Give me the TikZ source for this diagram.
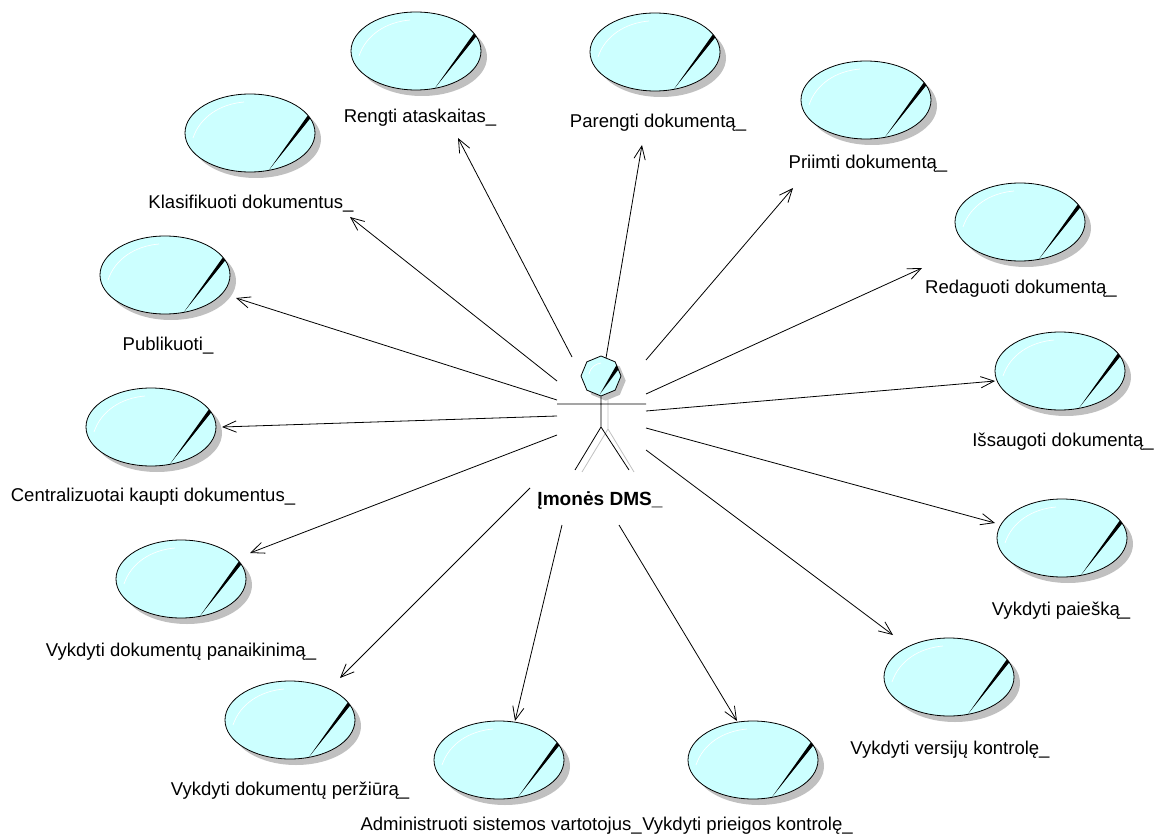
\documentclass[tikz,border=0pt]{standalone}
\usepackage{fontspec}
\setmainfont{Liberation Sans}
\usetikzlibrary{shapes.geometric,shadows,arrows.meta}
\definecolor{ucfill}{RGB}{204,255,255}
\definecolor{ucshade}{RGB}{192,192,192}
\tikzset{
  ucmark/.style={path picture={
    \begin{scope}[shift={(path picture bounding box.center)}]
      \fill[black] (60.5,-21.3) -- (63.5,-18.7) -- (19,37) -- cycle;
      \draw[white, line width=0.5pt] (-57,5) .. controls (-50,-16) and (-30,-29) .. (-6,-31);
    \end{scope}}},
  usecase/.style={ellipse, draw, line width=0.6pt, fill=ucfill,
    minimum width=97.5pt, minimum height=58.5pt, inner sep=0pt,
    drop shadow={shadow xshift=4.5pt, shadow yshift=-4.5pt, fill=ucshade, opacity=1}, ucmark},
  uclabel/.style={anchor=base, inner sep=0pt, font=\fontsize{13.9}{16}\selectfont},
  assoc/.style={line width=0.6pt, -{Straight Barb[length=10pt,width=8.5pt,line width=0.6pt]}},
  stick/.style={line width=0.6pt},
  stickshade/.style={line width=0.6pt, ucshade},
}
\begin{document}
\begin{tikzpicture}[x=0.75pt, y=-0.75pt]
\useasboundingbox (0,0) rectangle (1157,838);

% use cases
\node[usecase] (uc1)  at (416,51)   {};
\node[usecase] (uc2)  at (655,52)   {};
\node[usecase] (uc3)  at (866,100)  {};
\node[usecase] (uc4)  at (1020,222) {};
\node[usecase] (uc5)  at (1060,371) {};
\node[usecase] (uc6)  at (1062,538) {};
\node[usecase] (uc7)  at (949,677)  {};
\node[usecase] (uc8)  at (753,760)  {};
\node[usecase] (uc9)  at (499,760)  {};
\node[usecase] (uc10) at (290,720)  {};
\node[usecase] (uc11) at (181,579)  {};
\node[usecase] (uc12) at (151,427)  {};
\node[usecase] (uc13) at (165,275)  {};
\node[usecase] (uc14) at (250,133)  {};

% use case names
\node[uclabel] (l1)  at (420,123)  {Rengti ataskaitas\_};
\node[uclabel] (l2)  at (658,128)  {Parengti dokumentą\_};
\node[uclabel] (l3)  at (868,169)  {Priimti dokumentą\_};
\node[uclabel] (l4)  at (1021,293) {Redaguoti dokumentą\_};
\node[uclabel] (l5)  at (1063,446) {Išsaugoti dokumentą\_};
\node[uclabel] (l6)  at (1061,615) {Vykdyti paiešką\_};
\node[uclabel] (l7)  at (950,754)  {Vykdyti versijų kontrolę\_};
\node[uclabel, anchor=base west] (l8) at (642,830) {Vykdyti prieigos kontrolę\_};
\node[uclabel, anchor=base east] (l9) at (642,830) {Administruoti sistemos vartotojus\_};
\node[uclabel] (l10) at (290,795)  {Vykdyti dokumentų peržiūrą\_};
\node[uclabel] (l11) at (181,656)  {Vykdyti dokumentų panaikinimą\_};
\node[uclabel] (l12) at (153,501)  {Centralizuotai kaupti dokumentus\_};
\node[uclabel] (l13) at (168,350)  {Publikuoti\_};
\node[uclabel] (l14) at (251,209)  {Klasifikuoti dokumentus\_};

% actor: stick figure
\coordinate (hip)    at (601,427);
\coordinate (lhand)  at (557,404);
\coordinate (rhand)  at (646,404);
\coordinate (lfoot)  at (575,470);
\coordinate (rfoot)  at (629,470);
\coordinate (shneck) at (608,394);
\coordinate (shhip)  at (608,429);
\coordinate (shlfoot) at (582,472);
\coordinate (shrfoot) at (634,472);
\draw[stickshade] (shneck) -- (shhip) (shhip) -- (shlfoot) (shhip) -- (shrfoot);
\node[regular polygon, regular polygon sides=8, shape border rotate=22.5, draw, line width=0.6pt,
      fill=ucfill, minimum size=30pt, inner sep=0pt,
      drop shadow={shadow xshift=3.5pt, shadow yshift=-3.5pt, fill=ucshade, opacity=1},
      path picture={
        \begin{scope}[shift={(path picture bounding box.center)}]
          \fill[black] (15.5,-11) -- (18.5,-8) -- (-1,18) -- cycle;
          \draw[white, line width=0.5pt] (-12,-2) .. controls (-10,-9) and (-6,-12) .. (0,-13);
        \end{scope}}] (head) at (601,376) {};
\draw[stick] (head.south) -- (hip) (lhand) -- (rhand) (hip) -- (lfoot) (hip) -- (rfoot);
\node[uclabel, font=\bfseries\fontsize{14.3}{16}\selectfont] (actor) at (600,505) {Įmonės DMS\_};

% association ends
\coordinate (s1)  at (572,357);  \coordinate (t1)  at (458,138);
\coordinate (s2)  at (606,358);  \coordinate (t2)  at (642,145);
\coordinate (s3)  at (646,360);  \coordinate (t3)  at (793,188);
\coordinate (s4)  at (646,394);  \coordinate (t4)  at (922,268);
\coordinate (s5)  at (646,411);  \coordinate (t5)  at (995,381);
\coordinate (s6)  at (646,428);  \coordinate (t6)  at (995,523);
\coordinate (s7)  at (646,450);  \coordinate (t7)  at (893,635);
\coordinate (s8)  at (619,525);  \coordinate (t8)  at (737,721);
\coordinate (s9)  at (562,525);  \coordinate (t9)  at (515,721);
\coordinate (s10) at (530,488);  \coordinate (t10) at (340,678);
\coordinate (s11) at (557,435);  \coordinate (t11) at (250,553);
\coordinate (s12) at (557,416);  \coordinate (t12) at (222,427);
\coordinate (s13) at (557,400);  \coordinate (t13) at (236,298);
\coordinate (s14) at (557,381);  \coordinate (t14) at (350,217);
\foreach \i in {1,...,14} \draw[assoc] (s\i) -- (t\i);
\end{tikzpicture}
\end{document}
